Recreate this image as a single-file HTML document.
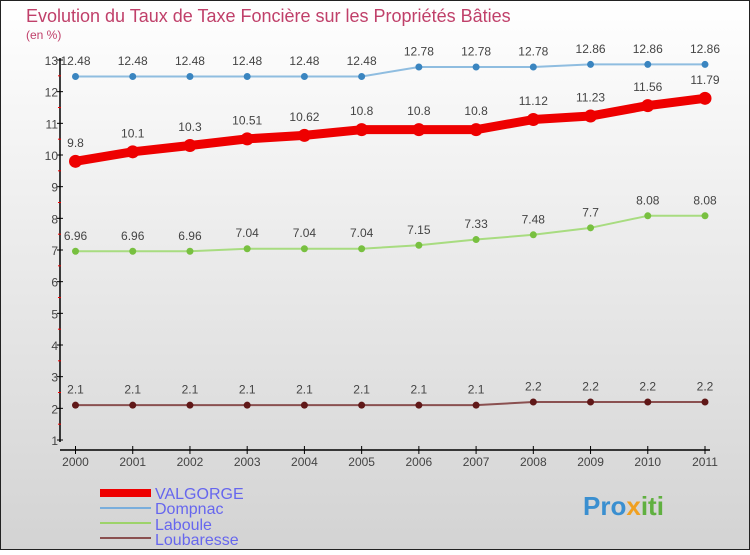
<!DOCTYPE html>
<html><head><meta charset="utf-8"><style>
body{margin:0;width:750px;height:550px;overflow:hidden;font-family:"Liberation Sans",sans-serif}
svg text{font-family:"Liberation Sans",sans-serif}
</style></head><body>
<svg width="750" height="550" xmlns="http://www.w3.org/2000/svg">
<defs><linearGradient id="bg" x1="0" y1="0" x2="0" y2="1"><stop offset="0" stop-color="#ffffff"/><stop offset="1" stop-color="#d3d3d3"/></linearGradient></defs>
<rect x="0.5" y="0.5" width="749" height="549" fill="url(#bg)" stroke="#222"/>
<text x="26" y="22" font-size="18" fill="#c0406a">Evolution du Taux de Taxe Foncière sur les Propriétés Bâties</text>
<text x="26" y="39" font-size="12" fill="#c0406a">(en %)</text>
<g id="axes"></g><g id="series"></g>
<g>
<rect x="100" y="489" width="51" height="8" fill="#e00"/>
<text x="155" y="499" font-size="16" fill="#6666ee">VALGORGE</text>
<rect x="100" y="507" width="51" height="2" fill="#7aaedc"/>
<text x="155" y="514" font-size="16" fill="#6666ee">Dompnac</text>
<rect x="100" y="522" width="51" height="2" fill="#9dd36a"/>
<text x="155" y="530" font-size="16" fill="#6666ee">Laboule</text>
<rect x="100" y="537" width="51" height="2" fill="#8a5050"/>
<text x="155" y="545" font-size="16" fill="#6666ee">Loubaresse</text>
</g>
<text x="583" y="515" font-size="26" font-weight="bold" fill="#3a8fd0">Pro<tspan fill="#f0a020">x</tspan><tspan fill="#60b040">iti</tspan></text>
</svg>
<script>
const years=[2000,2001,2002,2003,2004,2005,2006,2007,2008,2009,2010,2011];
const valgorge=[9.8,10.1,10.3,10.51,10.62,10.8,10.8,10.8,11.12,11.23,11.56,11.79];
const dompnac=[12.48,12.48,12.48,12.48,12.48,12.48,12.78,12.78,12.78,12.86,12.86,12.86];
const laboule=[6.96,6.96,6.96,7.04,7.04,7.04,7.15,7.33,7.48,7.7,8.08,8.08];
const loubaresse=[2.1,2.1,2.1,2.1,2.1,2.1,2.1,2.1,2.2,2.2,2.2,2.2];
const yTicks=[1,2,3,4,5,6,7,8,9,10,11,12,13];
const NS='http://www.w3.org/2000/svg';
const xs=i=>75.5+i*(705-75.5)/11;
const ys=v=>440-(v-1)*(380/12);
function mk(tag,attrs,parent){const e=document.createElementNS(NS,tag);for(const k in attrs)e.setAttribute(k,attrs[k]);parent.appendChild(e);return e;}
const ax=document.getElementById('axes');
let l=mk('line',{x1:60,y1:58,x2:60,y2:442,stroke:'#000','stroke-width':1.5},ax);


l=mk('line',{x1:60,y1:450,x2:710,y2:450,stroke:'#000','stroke-width':1.5},ax);


yTicks.forEach(v=>{
 mk('line',{x1:57,y1:ys(v),x2:63,y2:ys(v),stroke:'#000'},ax);
 if(v<13)mk('line',{x1:58,y1:ys(v+0.5),x2:61,y2:ys(v+0.5),stroke:'#e00'},ax);
 const t=mk('text',{x:58,y:ys(v)+5,'font-size':12,fill:'#444','text-anchor':'end'},ax);t.textContent=v;
 
 
});
years.forEach((y,i)=>{
 mk('line',{x1:xs(i),y1:446,x2:xs(i),y2:454,stroke:'#000'},ax);
 const t=mk('text',{x:xs(i),y:466,'font-size':12,fill:'#444','text-anchor':'middle'},ax);t.textContent=y;
 
 
});
const sg=document.getElementById('series');
function series(data,name,color,dot,w,r,fs){
 const g=mk('g',{},sg);
 
 
 mk('polyline',{points:data.map((v,i)=>xs(i)+','+ys(v)).join(' '),fill:'none',stroke:color,'stroke-width':w,'stroke-linejoin':'round'},g);
 data.forEach((v,i)=>{
  const c=mk('circle',{cx:xs(i),cy:ys(v),r:r,fill:dot},g);
  
  
  const t=mk('text',{x:xs(i),y:ys(v)-(r+8),'font-size':fs,fill:'#444','text-anchor':'middle'},g);t.textContent=String(v);
  
  
 });
}
series(dompnac,'dompnac','#8fbde0','#3a85c0',2,3.5,12);
series(laboule,'laboule','#a8dc80','#78c040',2,3.5,12);
series(loubaresse,'loubaresse','#8a5050','#601818',2,3.5,12);
series(valgorge,'valgorge','#e00','#e00',9,6.5,12);
</script>
</body></html>
